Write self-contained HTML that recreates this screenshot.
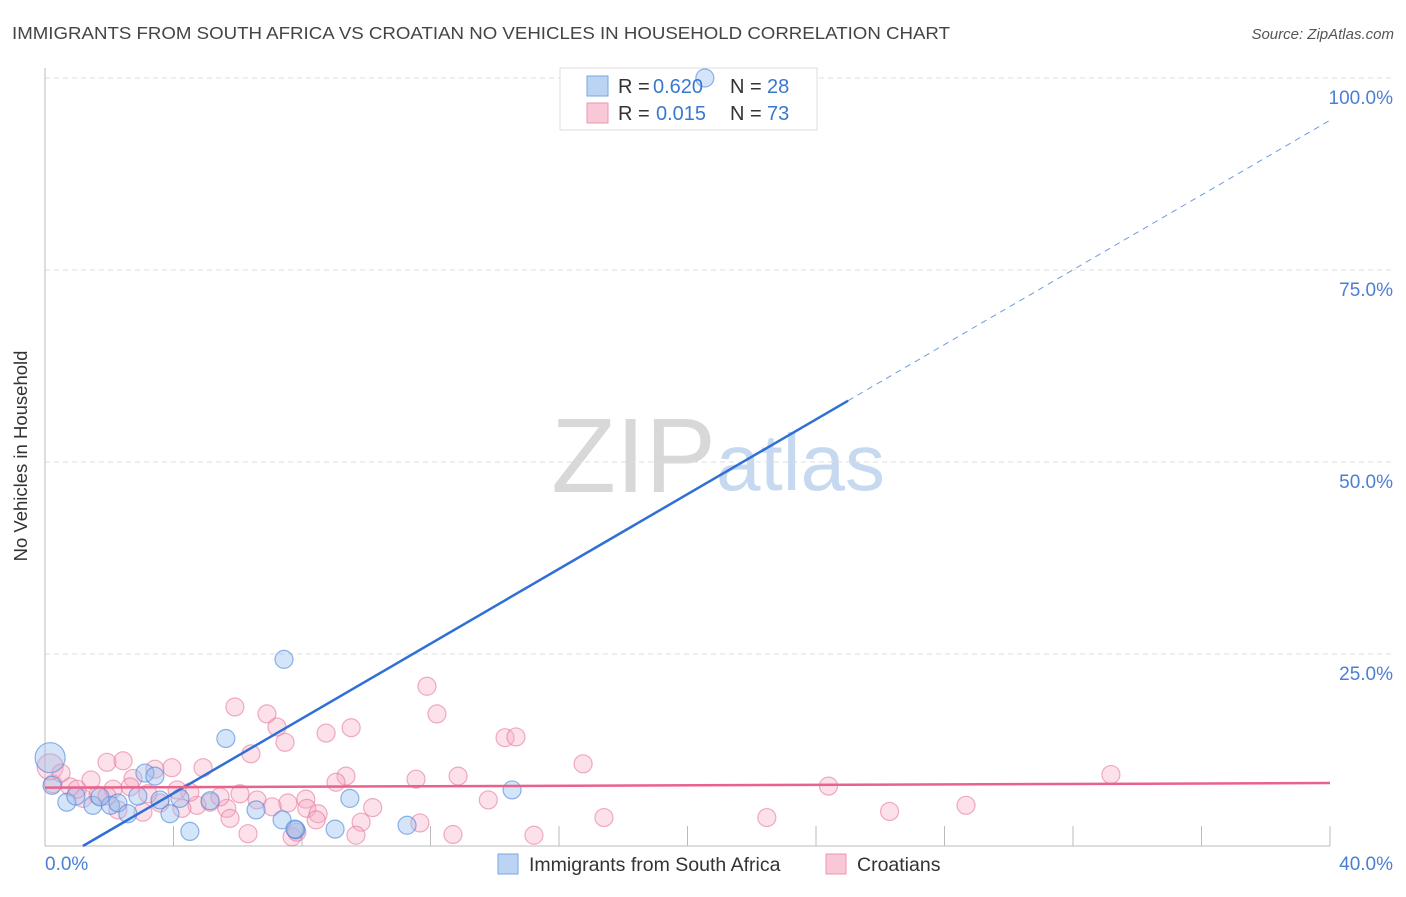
<!DOCTYPE html>
<html><head><meta charset="utf-8"><style>
body{margin:0;background:#fff;font-family:"Liberation Sans",sans-serif;}
svg text{font-family:"Liberation Sans",sans-serif;}
</style></head><body>
<svg width="1406" height="892">
<text x="12" y="39" font-size="17.5" fill="#444" textLength="938" lengthAdjust="spacingAndGlyphs">IMMIGRANTS FROM SOUTH AFRICA VS CROATIAN NO VEHICLES IN HOUSEHOLD CORRELATION CHART</text>
<text x="1394" y="39" font-size="15" fill="#555" font-style="italic" text-anchor="end">Source: ZipAtlas.com</text>
<text x="716" y="492" font-size="106" fill="#d8d8d8" text-anchor="end" font-family="Liberation Serif">ZIP</text>
<text x="716" y="490" font-size="80" fill="#c7d9f0">atlas</text>
<g id="grid"></g>
<line x1="45" y1="68" x2="45" y2="846" stroke="#bbb"/>
<line x1="45" y1="846" x2="1330" y2="846" stroke="#bbb"/>
<g id="ticks"></g>
<text x="27" y="456" font-size="18.5" fill="#333" text-anchor="middle" transform="rotate(-90 27 456)">No Vehicles in Household</text>
<text x="45" y="870" font-size="19" fill="#4a7fd4">0.0%</text>
<text x="1393" y="870" font-size="19" fill="#4a7fd4" text-anchor="end">40.0%</text>
<g>
<rect x="560" y="68" width="257" height="62" fill="#fff" stroke="#ddd"/>
</g>
<g id="pts"></g>
<g id="lines"></g>
<g>
<rect x="587" y="76" width="21" height="20" fill="#bcd4f4" stroke="#7aa6e4"/>
<rect x="587" y="103" width="21" height="20" fill="#f9c8d6" stroke="#ec96b0"/>
<text x="618" y="93" font-size="20" fill="#333">R = <tspan x="653" fill="#3a78d0">0.620</tspan><tspan x="730">N = </tspan><tspan x="767" fill="#3a78d0">28</tspan></text>
<text x="618" y="120" font-size="20" fill="#333">R = <tspan x="656" fill="#3a78d0">0.015</tspan><tspan x="730">N = </tspan><tspan x="767" fill="#3a78d0">73</tspan></text>
</g>
<g>
<rect x="498" y="854" width="20" height="20" fill="#bcd4f4" stroke="#7aa6e4"/>
<text x="529" y="871" font-size="19.5" fill="#333">Immigrants from South Africa</text>
<rect x="826" y="854" width="20" height="20" fill="#f9c8d6" stroke="#ec96b0"/>
<text x="857" y="871" font-size="19.5" fill="#333">Croatians</text>
</g>
</svg>
<script>
const yTicks=[25,50,75,100];
const yTickLabels=["25.0%","50.0%","75.0%","100.0%"];
const xTickVals=[0,4,8,12,16,20,24,28,32,36,40];
const blueX=[0.16,0.68,0.96,1.49,2.04,2.27,2.58,2.89,3.11,3.42,3.89,4.20,4.51,5.14,5.63,6.57,7.38,7.44,7.81,9.03,9.49,11.27,14.54,20.54,1.71,3.58,7.78,0.22];
const blueY=[11.5,5.7,6.5,5.3,5.3,5.6,4.2,6.5,9.5,9.1,4.2,6.2,1.9,5.9,14.0,4.7,3.4,24.3,2.1,2.2,6.2,2.7,7.3,100,6.4,6.0,2.2,7.9];
const blueR=[15,9,9,9,9,9,9,9,9,9,9,9,9,9,9,9,9,9,9,9,9,9,9,9,9,9,9,9];
const pinkX=[5.91,6.91,7.22,7.47,6.41,8.75,9.53,11.89,12.20,14.32,14.66,1.93,2.43,1.43,2.74,3.42,3.95,4.92,9.37,9.06,11.55,12.86,6.07,6.60,7.56,8.12,7.07,5.66,5.76,8.15,8.50,8.44,9.84,11.67,6.32,9.68,12.70,7.69,7.84,5.14,5.45,4.73,4.26,4.51,4.11,3.58,3.05,2.65,2.12,1.65,1.18,0.78,0.25,0.16,2.27,1.93,16.75,17.40,22.47,24.39,26.29,28.67,33.18,15.22,13.8,3.2,0.5,1.0,10.2];
const pinkY=[18.1,17.2,15.5,13.5,12.0,14.7,15.4,20.8,17.2,14.1,14.2,10.9,11.1,8.6,8.8,10.0,10.2,10.2,9.1,8.3,8.7,9.1,6.8,6.0,5.6,6.1,5.1,4.9,3.6,4.9,4.2,3.4,3.1,3.0,1.6,1.4,1.5,1.2,1.8,5.7,6.4,5.3,4.9,7.0,7.3,5.6,4.4,7.7,7.4,6.6,6.2,7.7,8.1,10.3,4.7,6.5,10.7,3.7,3.7,7.8,4.5,5.3,9.3,1.4,6.0,6.8,9.5,7.4,5.0];
const blueFit=[1.18,94.5];
const pinkFit=[7.6,8.2];
function sx(v){return 45+v/40*1285;}
function sy(v){return 846-v*7.68;}
const NS="http://www.w3.org/2000/svg";
function mk(tag,attrs,parent){const e=document.createElementNS(NS,tag);for(const k in attrs)e.setAttribute(k,attrs[k]);document.getElementById(parent).appendChild(e);return e;}
yTicks.forEach((t,i)=>{
 const g=mk('line',{x1:45,x2:1395,y1:sy(t),y2:sy(t),stroke:'#ddd','stroke-dasharray':'5,4'},'grid');
 
 
 const l=mk('text',{x:1393,y:sy(t)+26,'font-size':19,fill:'#4a7fd4','text-anchor':'end'},'grid');
 l.textContent=yTickLabels[i];
 
 
});
xTickVals.forEach(t=>{
 const e=mk('line',{x1:sx(t),x2:sx(t),y1:826,y2:846,stroke:'#bbb'},'ticks');
 
 
});
pinkX.forEach((x,i)=>{
 const c=mk('circle',{cx:sx(x),cy:sy(pinkY[i]),r:i==53?13:9,fill:'rgba(245,170,195,0.35)',stroke:'rgba(230,120,155,0.6)','stroke-width':1.2},'pts');
 
 
});
blueX.forEach((x,i)=>{
 const c=mk('circle',{cx:sx(x),cy:sy(blueY[i]),r:blueR[i],fill:'rgba(150,190,240,0.4)',stroke:'rgba(70,130,215,0.6)','stroke-width':1.2},'pts');
 
 
});
const bSlope=(blueFit[1]-0)/(40-blueFit[0]);
function by(x){return (x-blueFit[0])*bSlope;}
const b1=mk('line',{x1:sx(blueFit[0]),y1:sy(0),x2:sx(25),y2:sy(by(25)),stroke:'#2f6fd6','stroke-width':2.5},'lines');


const b2=mk('line',{x1:sx(25),y1:sy(by(25)),x2:sx(40),y2:sy(by(40)),stroke:'#6e9be0','stroke-width':1,'stroke-dasharray':'6,5'},'lines');


const p1=mk('line',{x1:sx(0),y1:sy(pinkFit[0]),x2:sx(40),y2:sy(pinkFit[1]),stroke:'#e8628c','stroke-width':2.5},'lines');


</script>
</body></html>
